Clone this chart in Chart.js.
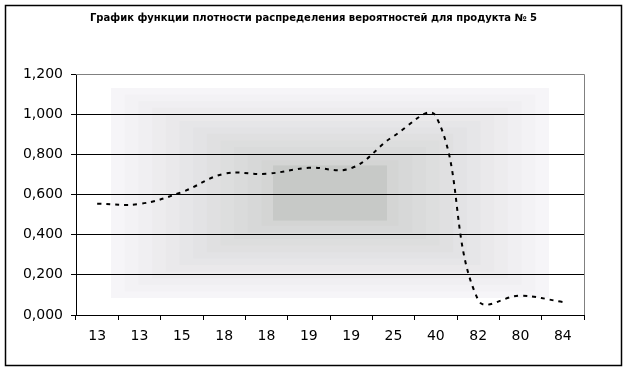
<!DOCTYPE html>
<html>
<head>
<meta charset="utf-8">
<script src="https://cdn.jsdelivr.net/npm/chart.js@4"></script>
<style>
  html, body { margin: 0; padding: 0; background: #fff; }
  #wrap { width: 627px; height: 370px; }
</style>
</head>
<body>
<div id="wrap"><canvas id="chart" width="627" height="370"></canvas></div>
<script>
const titleText = 'График функции плотности распределения вероятностей для продукта № 5';
const labels = ['13', '13', '15', '18', '18', '19', '19', '25', '40', '82', '80', '84'];
const density = [0.554, 0.553, 0.612, 0.703, 0.703, 0.733, 0.731, 0.89, 0.99, 0.075, 0.096, 0.065];
const yTicks = [0, 0.2, 0.4, 0.6, 0.8, 1.0, 1.2];

// chart frame + gradient behind plot area (Excel style "from center" fill)
const backdrop = {
    id: 'backdrop',
    beforeDraw(chart) {
        const ctx = chart.ctx;
        ctx.save();
        ctx.fillStyle = '#fff';
        ctx.fillRect(0, 0, chart.width, chart.height);
        const cx = 330, cy = 193, hw = 219, hh = 105;
        const steps = 16;
        for (let i = 0; i < steps; i++) {
            const t = 1 - i / steps;
            const k = Math.max(t, 0.26);
            const r = Math.round(246 - (1 - t) * 50);
            const g = Math.round(245 - (1 - t) * 47);
            const b = Math.round(248 - (1 - t) * 52);
            ctx.fillStyle = 'rgb(' + r + ',' + g + ',' + b + ')';
            ctx.fillRect(cx - hw * k, cy - hh * k, hw * k * 2, hh * k * 2);
        }
        ctx.restore();
    },
    afterDraw(chart) {
        const ctx = chart.ctx;
        const a = chart.chartArea;
        ctx.save();
        ctx.strokeStyle = '#808080';
        ctx.lineWidth = 1;
        ctx.beginPath();
        ctx.moveTo(a.left, a.top + 0.5);
        ctx.lineTo(a.right + 0.5, a.top + 0.5);
        ctx.lineTo(a.right + 0.5, a.bottom);
        ctx.stroke();
        ctx.strokeStyle = '#000';
        ctx.lineWidth = 1.5;
        ctx.strokeRect(5.5, 5.5, 616, 360);
        ctx.restore();
    }
};

new Chart(document.getElementById('chart'), {
    type: 'line',
    data: {
        labels: labels,
        datasets: [{
            data: density,
            borderColor: '#000',
            borderWidth: 2,
            borderDash: [4, 5],
            pointRadius: 0,
            tension: 0.4,
            fill: false
        }]
    },
    options: {
        responsive: false,
        animation: false,
        layout: { padding: 0 },
        plugins: {
            legend: { display: false },
            tooltip: { enabled: false },
            title: {
                display: true,
                text: titleText,
                color: '#000',
                font: { family: 'DejaVu Sans', size: 10, weight: 'bold' },
                padding: { top: 12, bottom: 50 }
            }
        },
        scales: {
            x: {
                offset: true,
                afterFit: s => { s.height = 55; },
                grid: {
                    offset: true,
                    drawOnChartArea: false,
                    drawTicks: true,
                    tickLength: 5,
                    tickColor: '#000'
                },
                border: { color: '#000', width: 1 },
                ticks: {
                    color: '#000',
                    padding: 8,
                    maxRotation: 0,
                    autoSkip: false,
                    font: { family: 'DejaVu Sans', size: 14 }
                }
            },
            y: {
                min: 0,
                max: 1.2,
                afterFit: s => { s.width = 76; },
                afterBuildTicks: s => { s.ticks = yTicks.map(v => ({ value: v })); },
                grid: {
                    color: ctx => (ctx.tick && ctx.tick.value === 1.2) ? '#808080' : '#000',
                    tickColor: '#000',
                    tickLength: 5,
                    lineWidth: 1
                },
                border: { color: '#000', width: 1 },
                ticks: {
                    color: '#000',
                    padding: 8,
                    font: { family: 'DejaVu Sans', size: 14 },
                    callback: v => v.toFixed(3).replace('.', ',')
                }
            },
            // empty right-hand axis, only reserves the margin right of the plot
            yRight: {
                position: 'right',
                min: 0,
                max: 1.2,
                afterFit: s => { s.width = 43; },
                grid: { display: false },
                border: { display: false },
                ticks: { display: false }
            }
        }
    },
    plugins: [backdrop]
});
</script>
</body>
</html>
